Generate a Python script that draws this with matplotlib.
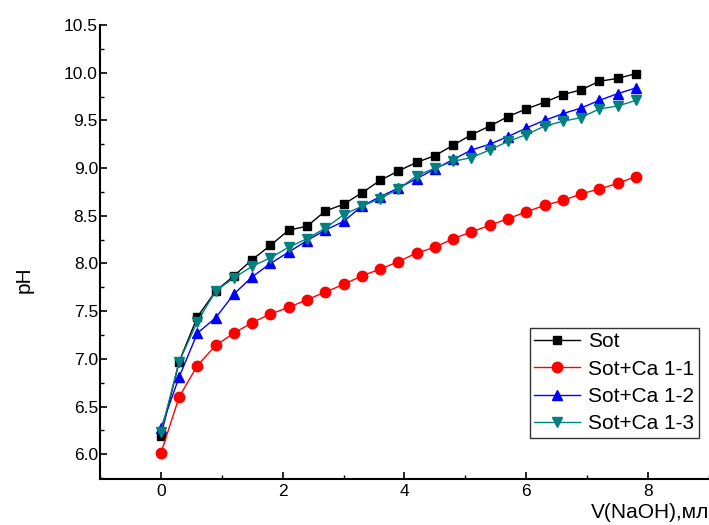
import numpy as np
import matplotlib
matplotlib.use("Agg")
import matplotlib.pyplot as plt
from matplotlib.ticker import MultipleLocator

# ==========================================
# DATA
# ==========================================
v_naoh = [0.0, 0.3, 0.6, 0.9, 1.2, 1.5, 1.8, 2.1, 2.4, 2.7, 3.0, 3.3, 3.6, 3.9,
          4.2, 4.5, 4.8, 5.1, 5.4, 5.7, 6.0, 6.3, 6.6, 6.9, 7.2, 7.5, 7.8]

ph_sot = [6.19, 6.97, 7.44, 7.71, 7.87, 8.04, 8.19, 8.35, 8.39, 8.55, 8.62, 8.74, 8.87, 8.97,
          9.06, 9.13, 9.24, 9.35, 9.44, 9.54, 9.62, 9.69, 9.77, 9.82, 9.91, 9.94, 9.99]
ph_ca11 = [6.01, 6.60, 6.93, 7.14, 7.27, 7.38, 7.47, 7.54, 7.62, 7.70, 7.78, 7.87, 7.94, 8.02,
           8.11, 8.17, 8.26, 8.33, 8.40, 8.47, 8.54, 8.61, 8.66, 8.73, 8.78, 8.84, 8.91]
ph_ca12 = [6.27, 6.81, 7.27, 7.43, 7.68, 7.86, 8.00, 8.12, 8.24, 8.35, 8.44, 8.60, 8.70, 8.79,
           8.89, 8.99, 9.09, 9.19, 9.25, 9.33, 9.42, 9.50, 9.57, 9.63, 9.71, 9.78, 9.84]
ph_ca13 = [6.23, 6.97, 7.39, 7.71, 7.85, 7.97, 8.06, 8.17, 8.26, 8.37, 8.51, 8.60, 8.68, 8.78,
           8.92, 9.00, 9.07, 9.11, 9.19, 9.28, 9.35, 9.44, 9.49, 9.53, 9.62, 9.65, 9.71]

labels = ["Sot", "Sot+Ca 1-1", "Sot+Ca 1-2", "Sot+Ca 1-3"]

# ==========================================
# STYLE
# ==========================================
plt.rcParams["font.family"] = ["Liberation Sans", "DejaVu Sans"]

fig = plt.figure(figsize=(7.09, 5.25), dpi=100)
ax = fig.add_axes([0.141, 0.0876, 0.859, 0.8648])

series = [
    (ph_sot, "black", "s", 6.0),
    (ph_ca11, "red", "o", 7.5),
    (ph_ca12, "blue", "^", 7.5),
    (ph_ca13, "#008080", "v", 7.5),
]

for (vals, col, mk, ms), lab in zip(series, labels):
    ax.plot(v_naoh, vals, color=col, marker=mk, markersize=ms,
            linewidth=1.0, label=lab)

# ==========================================
# AXES
# ==========================================
ax.set_xlim(-1, 9)
ax.set_ylim(5.74, 10.5)
ax.xaxis.set_major_locator(MultipleLocator(2))
ax.xaxis.set_minor_locator(MultipleLocator(1))
ax.yaxis.set_major_locator(MultipleLocator(0.5))
ax.yaxis.set_minor_locator(MultipleLocator(0.25))
ax.yaxis.set_major_formatter(matplotlib.ticker.FormatStrFormatter("%.1f"))

ax.spines["top"].set_visible(False)
ax.spines["right"].set_visible(False)
ax.spines["left"].set_linewidth(1.5)
ax.spines["bottom"].set_linewidth(1.5)

ax.tick_params(which="major", direction="in", length=5, width=1.2, labelsize=12.5)
ax.tick_params(axis="y", which="major", pad=1.5)
ax.tick_params(which="minor", direction="in", length=3, width=1.0)

ax.set_ylabel("pH", fontsize=15)
ax.yaxis.set_label_coords(-0.109, 0.438)
ax.set_xlabel("V(NaOH),мл", fontsize=15, ha="right")
ax.xaxis.set_label_coords(1.0, -0.053)

leg = ax.legend(loc="upper left", bbox_to_anchor=(0.706, 0.332), borderaxespad=0,
                fontsize=15, frameon=True, fancybox=False, handlelength=2.2,
                handletextpad=0.4, labelspacing=0.4, borderpad=0.2)
leg.get_frame().set_edgecolor("black")
leg.get_frame().set_linewidth(1.0)

plt.savefig("out.png", dpi=100)
